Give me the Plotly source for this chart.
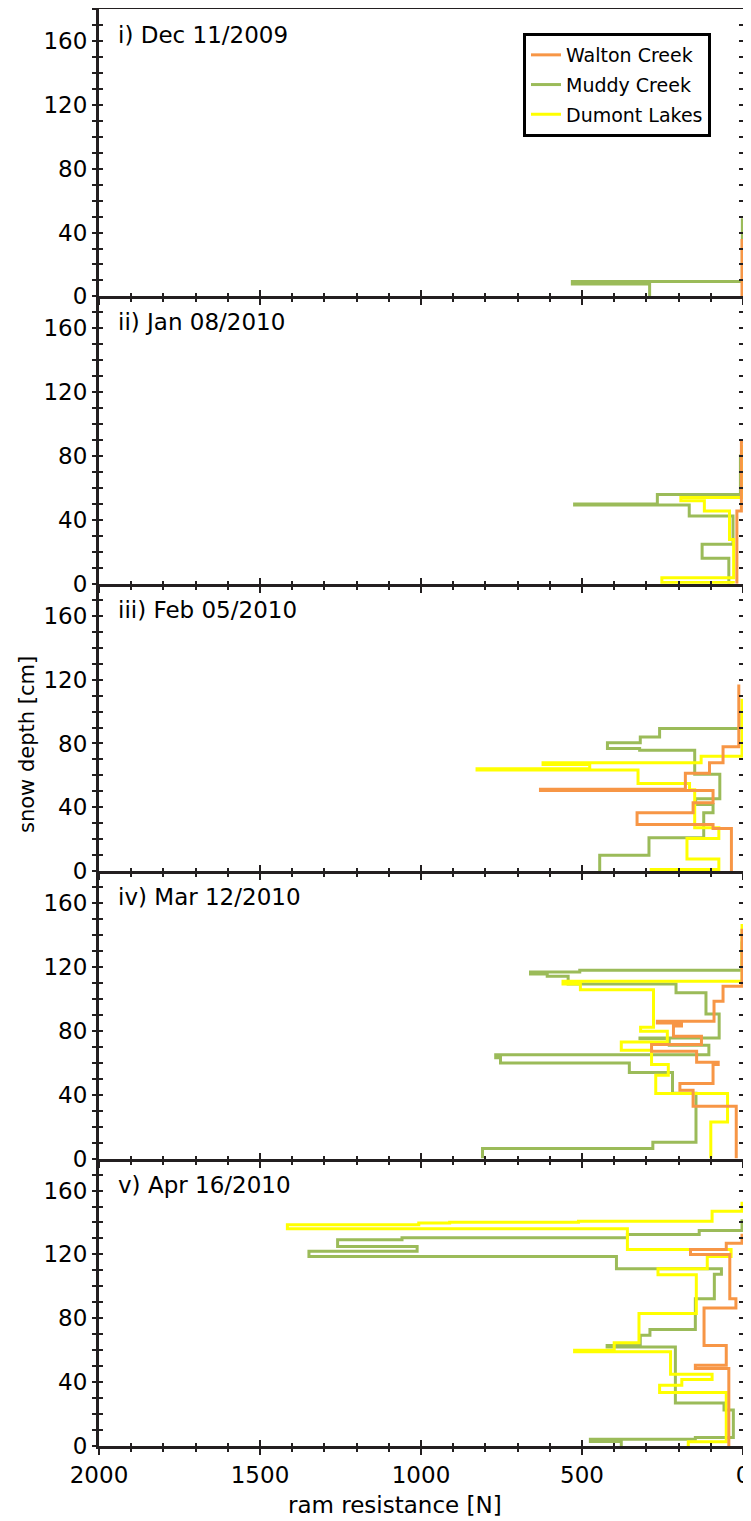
import plotly.graph_objects as go

# ---------------- data (ram resistance [N], snow depth [cm]) ----------------
PANEL_LABELS = ["i) Dec 11/2009", "ii) Jan 08/2010", "iii) Feb 05/2010",
                "iv) Mar 12/2010", "v) Apr 16/2010"]
SITES = ["Walton Creek", "Muddy Creek", "Dumont Lakes"]

# Dec 11/2009
WALTON_DEC_RAM = [3, 3]
WALTON_DEC_DEPTH = [36, 0]
MUDDY_DEC_RAM = [2, 530, 290, 290]
MUDDY_DEC_DEPTH = [49, 9.3, 7.8, 0]
DUMONT_DEC_RAM = [1, 1]
DUMONT_DEC_DEPTH = [36, 0]

# Jan 08/2010
WALTON_JAN_RAM = [0, 5, 19, 19]
WALTON_JAN_DEPTH = [89.5, 89, 45.6, 0]
MUDDY_JAN_RAM = [8, 266, 523, 167, 31, 127, 44, 44]
MUDDY_JAN_DEPTH = [81, 56, 50, 49.4, 42.5, 24.7, 16, 0]
DUMONT_JAN_RAM = [3, 193, 120, 42, 29, 252, 30, 30]
DUMONT_JAN_DEPTH = [87, 54, 52, 45.6, 27.8, 3.8, 0.8, 0]

# Feb 05/2010
WALTON_FEB_RAM = [13, 62, 104, 179, 629, 93, 155, 329, 93, 36, 36]
WALTON_FEB_DEPTH = [117, 78, 68, 61.3, 51.3, 50.6, 42.9, 36.6, 29.3, 26.8, 0]
MUDDY_FEB_RAM = [3, 259, 319, 421, 321, 150, 72, 147, 93, 122, 292, 445, 445]
MUDDY_FEB_DEPTH = [101, 89.3, 84.1, 80.5, 76.8, 75.7, 60.7, 45.4, 41.8, 36.6, 20.9, 10, 0]
DUMONT_FEB_RAM = [3, 130, 621, 476, 826, 326, 166, 150, 75, 174, 75, 285, 285]
DUMONT_FEB_DEPTH = [108, 72, 68, 66.9, 64.2, 63.4, 55, 51, 27.2, 20.5, 7.7, 1, 0]

# Mar 12/2010
WALTON_MAR_RAM = [3, 62, 90, 266, 191, 216, 129, 284, 144, 77, 93, 196, 155, 21, 21]
WALTON_MAR_DEPTH = [144, 108, 98.5, 86, 85, 83, 76.6, 71.4, 67.2, 60.3, 59, 47, 42.8, 32.8, 0]
MUDDY_MAR_RAM = [3, 507, 660, 608, 543, 208, 115, 74, 320, 229, 106, 768, 753, 353,
                 219, 146, 280, 809, 809]
MUDDY_MAR_DEPTH = [136, 118, 116.8, 115.6, 114.2, 109.4, 103.8, 90.6, 75.6, 75, 71, 65.1,
                   63.2, 59.9, 54, 41, 10.2, 6.3, 0]
DUMONT_MAR_RAM = [3, 559, 505, 278, 318, 235, 378, 284, 232, 271, 48, 100, 100]
DUMONT_MAR_DEPTH = [147, 111, 109.4, 105.8, 82.3, 79.7, 73, 67.8, 58.9, 52.2, 40.7, 23, 0]

# Apr 16/2010
WALTON_APR_RAM = [3, 52, 163, 41, 22, 121, 52, 148, 44, 44]
WALTON_APR_DEPTH = [133, 127, 123, 120, 92.3, 86.5, 63, 50.6, 48.5, 0]
MUDDY_APR_RAM = [3, 136, 359, 1059, 1259, 1012, 1348, 393, 67, 89, 148, 289, 319, 422,
                 210, 59, 30, 148, 474, 378, 378]
MUDDY_APR_DEPTH = [142, 135, 132.5, 130.4, 129.2, 125, 122, 118.7, 111, 107.5, 92.3, 73,
                   69.4, 63, 62, 27, 22.5, 5.4, 4.2, 2.8, 0]
DUMONT_APR_RAM = [3, 96, 511, 911, 1007, 1415, 359, 37, 111, 264, 145, 323, 400, 523,
                  225, 96, 190, 259, 52, 170, 170]
DUMONT_APR_DEPTH = [153, 147, 140.8, 140.2, 139.6, 138.5, 136, 123, 118.7, 111, 107.3,
                    83, 64.6, 60, 59, 45, 41.7, 38, 33.5, 2.7, 0]

X_TICKS = [2000, 1500, 1000, 500, 0]
Y_TICKS = [0, 40, 80, 120, 160]

PROFILES = [
    {"Walton Creek": (WALTON_DEC_RAM, WALTON_DEC_DEPTH),
     "Muddy Creek": (MUDDY_DEC_RAM, MUDDY_DEC_DEPTH),
     "Dumont Lakes": (DUMONT_DEC_RAM, DUMONT_DEC_DEPTH)},
    {"Walton Creek": (WALTON_JAN_RAM, WALTON_JAN_DEPTH),
     "Muddy Creek": (MUDDY_JAN_RAM, MUDDY_JAN_DEPTH),
     "Dumont Lakes": (DUMONT_JAN_RAM, DUMONT_JAN_DEPTH)},
    {"Walton Creek": (WALTON_FEB_RAM, WALTON_FEB_DEPTH),
     "Muddy Creek": (MUDDY_FEB_RAM, MUDDY_FEB_DEPTH),
     "Dumont Lakes": (DUMONT_FEB_RAM, DUMONT_FEB_DEPTH)},
    {"Walton Creek": (WALTON_MAR_RAM, WALTON_MAR_DEPTH),
     "Muddy Creek": (MUDDY_MAR_RAM, MUDDY_MAR_DEPTH),
     "Dumont Lakes": (DUMONT_MAR_RAM, DUMONT_MAR_DEPTH)},
    {"Walton Creek": (WALTON_APR_RAM, WALTON_APR_DEPTH),
     "Muddy Creek": (MUDDY_APR_RAM, MUDDY_APR_DEPTH),
     "Dumont Lakes": (DUMONT_APR_RAM, DUMONT_APR_DEPTH)},
]

# ---------------- styling ----------------
COLORS = {"Walton Creek": "#F79646", "Muddy Creek": "#9BBB59", "Dumont Lakes": "#FFFF00"}
RANK = {"Walton Creek": 1, "Muddy Creek": 2, "Dumont Lakes": 3}
DRAW_ORDER = ["Muddy Creek", "Dumont Lakes", "Walton Creek"]
FONT = "DejaVu Sans"
AX = "#231F20"

# page geometry (the html body adds an 8px offset)
OFF = 8
PAGE_W, PAGE_H = 751, 1521
P_LEFT, P_RIGHT, P_TOP, P_BOT = 99, 743, 9, 1446   # plot area in page pixels
W, H = PAGE_W - OFF, PAGE_H - OFF
ML, MT = P_LEFT - OFF, P_TOP - OFF
MR = W - (P_RIGHT - OFF)
MB = H - (P_BOT - OFF)
N = 5
PW = P_RIGHT - P_LEFT
PH = P_BOT - P_TOP


def px(xp):
    return (xp - P_LEFT) / PW


def py(yp):
    return 1 - (yp - P_TOP) / PH


fig = go.Figure()
layout = {}

for k in range(N):
    i = k + 1
    sfx = "" if i == 1 else str(i)
    top = 1 - k / N
    bot = 1 - (k + 1) / N
    for site in DRAW_ORDER:
        ram, depth = PROFILES[k][site]
        fig.add_trace(go.Scatter(
            x=ram, y=depth, mode="lines", line=dict(color=COLORS[site], width=3, shape="vh"),
            name=site, legendgroup=site, legendrank=RANK[site], showlegend=(k == 0),
            xaxis="x" + sfx, yaxis="y" + sfx, hoverinfo="skip"))
    # main axes (outside ticks)
    layout["xaxis" + sfx] = dict(
        domain=[0, 1], anchor="y" + sfx, range=[2000, 0], tickvals=X_TICKS,
        ticks="outside", ticklen=6, tickwidth=2, tickcolor=AX,
        minor=dict(dtick=100, ticks="outside", ticklen=3, tickwidth=2, tickcolor=AX),
        showticklabels=(i == N), showline=True, linewidth=3, linecolor=AX,
        mirror=(i == 1), automargin=False,
        showgrid=False, zeroline=False, fixedrange=True,
        tickfont=dict(family=FONT, size=23, color="black"))
    layout["yaxis" + sfx] = dict(
        domain=[bot, top], anchor="x" + sfx, range=[0, 180], tickvals=Y_TICKS,
        ticks="outside", ticklen=4, tickwidth=2, tickcolor=AX,
        minor=dict(dtick=10, ticks="outside", ticklen=4, tickwidth=2, tickcolor=AX),
        showline=True, linewidth=3, linecolor=AX, mirror="ticks", automargin=False,
        showgrid=False, zeroline=False, fixedrange=True,
        tickfont=dict(family=FONT, size=23, color="black"))
    # overlay axes (inside ticks) to make crossing tick marks
    j = i + N
    layout["xaxis" + str(j)] = dict(
        overlaying="x" + sfx, anchor="y" + str(j), range=[2000, 0], tickvals=X_TICKS,
        ticks="inside", ticklen=6, tickwidth=2, tickcolor=AX,
        minor=dict(dtick=100, ticks="inside", ticklen=3, tickwidth=2, tickcolor=AX),
        showticklabels=False, showline=False, showgrid=False, zeroline=False, fixedrange=True)
    layout["yaxis" + str(j)] = dict(
        overlaying="y" + sfx, anchor="x" + str(j), range=[0, 180], tickvals=Y_TICKS,
        ticks="inside", ticklen=4, tickwidth=2, tickcolor=AX,
        minor=dict(dtick=10, ticks="inside", ticklen=4, tickwidth=2, tickcolor=AX),
        showticklabels=False, showline=False, mirror="ticks",
        showgrid=False, zeroline=False, fixedrange=True)
    fig.add_trace(go.Scatter(x=[None], y=[None], xaxis="x" + str(j), yaxis="y" + str(j),
                             showlegend=False, hoverinfo="skip"))

annotations = []
for k, lab in enumerate(PANEL_LABELS):
    ypix = P_TOP + k * PH / N + 26
    annotations.append(dict(
        text=lab, xref="paper", yref="paper", x=px(116), y=py(ypix),
        xanchor="left", yanchor="middle", showarrow=False,
        font=dict(family=FONT, size=23, color="black")))
annotations.append(dict(
    text="snow depth [cm]", xref="paper", yref="paper", x=px(27), y=py(745),
    textangle=-90, xanchor="center", yanchor="middle",
    showarrow=False, font=dict(family=FONT, size=21, color="black")))
annotations.append(dict(
    text="ram resistance [N]", xref="paper", yref="paper", x=px(395), y=py(1505),
    xanchor="center", yanchor="middle",
    showarrow=False, font=dict(family=FONT, size=23, color="black")))

fig.update_layout(
    width=W, height=H, margin=dict(l=ML, r=MR, t=MT, b=MB, autoexpand=False),
    paper_bgcolor="white", plot_bgcolor="white",
    showlegend=True,
    legend=dict(x=px(523), y=py(33), xanchor="left", yanchor="top",
                bgcolor="white", bordercolor="black", borderwidth=3,
                font=dict(family=FONT, size=19, color="black"),
                tracegroupgap=2, itemwidth=30),
    annotations=annotations,
    **layout)

fig.write_html("out.html")
